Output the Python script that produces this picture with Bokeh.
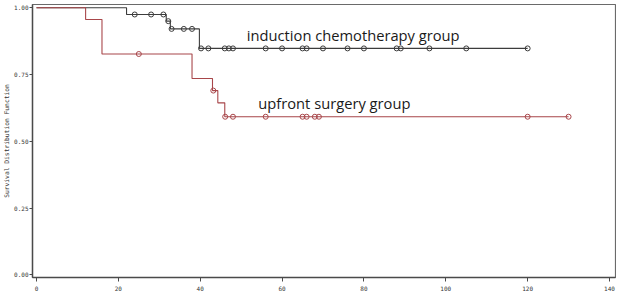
from bokeh.plotting import figure
from bokeh.models import FixedTicker, PrintfTickFormatter, Range1d, ColumnDataSource
from bokeh.core.properties import value
from bokeh.embed import file_html
from bokeh.resources import INLINE
import numpy as np

# Kaplan-Meier step data
chemo_time = [0, 22, 31.7, 32.7, 39.8, 120]
chemo_surv = [1.0, 0.975, 0.95, 0.921, 0.848, 0.848]
chemo_censor = [24, 28, 31, 32.2, 33, 36, 38, 40.2, 42, 46, 47, 48, 56, 60, 65, 66,
                70, 76, 80, 88, 89, 96, 105, 120]

surg_time = [0, 12, 16, 38, 43, 44.3, 46, 130]
surg_surv = [1.0, 0.956, 0.827, 0.735, 0.69, 0.644, 0.592, 0.592]
surg_censor = [25, 43.2, 46.1, 48, 56, 65, 66, 68, 69, 120, 130]

x_ticks = [0, 20, 40, 60, 80, 100, 120, 140]
y_ticks = [0.0, 0.25, 0.5, 0.75, 1.0]

labels = ["induction chemotherapy group", "upfront surgery group"]
label_x = [51.4, 54.2]
label_y = [0.897, 0.644]

CHEMO_COLOR = "#3c3c3c"
SURG_COLOR = "#a8464a"
MONO = "DejaVu Sans Mono"


def step_value(times, surv, t):
    times = np.asarray(times)
    surv = np.asarray(surv)
    idx = np.searchsorted(times, np.asarray(t), side="right") - 1
    return surv[idx]


p = figure(frame_width=583, frame_height=273, output_backend="svg", toolbar_location=None,
           x_range=Range1d(-0.977, 141.466), y_range=Range1d(-0.0101, 1.0124),
           min_border_left=30, min_border_right=1, min_border_top=4, min_border_bottom=17)

p.step(chemo_time, chemo_surv, mode="after", line_color=CHEMO_COLOR, line_width=1.1)
p.step(surg_time, surg_surv, mode="after", line_color=SURG_COLOR, line_width=1.1)

p.scatter(chemo_censor, step_value(chemo_time, chemo_surv, chemo_censor), marker="circle",
          size=5, line_color=CHEMO_COLOR, fill_color=None, line_width=1)
p.scatter(surg_censor, step_value(surg_time, surg_surv, surg_censor), marker="circle",
          size=5, line_color=SURG_COLOR, fill_color=None, line_width=1)

src = ColumnDataSource(dict(x=label_x, y=label_y, t=labels))
p.text(x="x", y="y", text="t", source=src, text_font=value("Open Sans"),
       text_font_size="14.7px", text_color="#1a1a1a", text_baseline="alphabetic",
       text_align="left")

p.xgrid.visible = False
p.ygrid.visible = False
p.outline_line_color = "#6a6a6a"
p.outline_line_width = 1.2

p.xaxis.ticker = FixedTicker(ticks=x_ticks)
p.yaxis.ticker = FixedTicker(ticks=y_ticks)
p.yaxis.formatter = PrintfTickFormatter(format="%.2f")
p.yaxis.axis_label = "Survival Distribution Function"

for ax in (p.xaxis[0], p.yaxis[0]):
    ax.axis_line_color = "#4a4a4a"
    ax.axis_line_width = 1.4
    ax.major_tick_line_color = "#4a4a4a"
    ax.major_tick_in = 0
    ax.major_tick_out = 3
    ax.minor_tick_line_color = None
    ax.major_label_text_font = MONO
    ax.major_label_text_font_size = "6px"
    ax.major_label_text_color = "#333333"
    ax.major_label_standoff = 1

p.xaxis.major_tick_out = 4
p.xaxis.major_label_standoff = 4

p.yaxis.axis_label_text_font = MONO
p.yaxis.axis_label_text_font_size = "6.3px"
p.yaxis.axis_label_text_font_style = "normal"
p.yaxis.axis_label_text_color = "#333333"
p.yaxis.axis_label_standoff = 1

open("out.html", "w").write(file_html(p, INLINE))
